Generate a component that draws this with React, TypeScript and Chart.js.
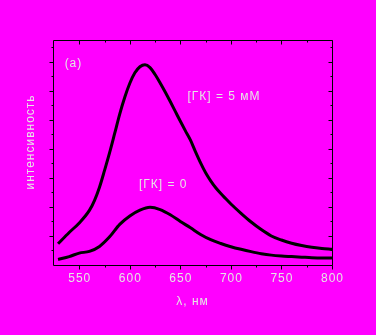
import React, { useEffect, useRef } from 'react';
import { Chart, registerables } from 'chart.js';

Chart.register(...registerables);

// ---- data ----
const wavelengthHigh = [529, 540, 550, 560, 565, 570, 575, 580, 585, 590, 595, 600, 605, 610, 615, 620, 625, 630, 635, 640, 645, 650, 655, 660, 665, 670, 675, 680, 685, 690, 695, 700, 710, 720, 730, 740, 750, 760, 770, 780, 790, 800];
const intensityHigh = [0.73, 1.12, 1.45, 1.88, 2.22, 2.68, 3.26, 3.87, 4.53, 5.2, 5.78, 6.26, 6.62, 6.83, 6.9, 6.8, 6.56, 6.27, 5.96, 5.63, 5.29, 4.95, 4.62, 4.3, 3.9, 3.52, 3.18, 2.9, 2.66, 2.46, 2.28, 2.10, 1.78, 1.48, 1.22, 1.0, 0.86, 0.75, 0.67, 0.61, 0.57, 0.54];

const wavelengthLow = [529, 540, 550, 560, 570, 580, 590, 600, 610, 620, 630, 640, 650, 660, 670, 680, 690, 700, 710, 720, 730, 740, 750, 760, 770, 780, 800];
const intensityLow = [0.19, 0.29, 0.41, 0.47, 0.64, 0.97, 1.40, 1.69, 1.89, 1.99, 1.91, 1.73, 1.50, 1.28, 1.05, 0.87, 0.74, 0.63, 0.54, 0.46, 0.39, 0.34, 0.31, 0.29, 0.27, 0.25, 0.24];

const xMajorTicks = [550, 600, 650, 700, 750, 800];
const xMinorTicks = [575, 625, 675, 725, 775];
const yMajorTicks = [1, 2, 3, 4, 5, 6, 7];
const yMinorTicks = [0.5, 1.5, 2.5, 3.5, 4.5, 5.5, 6.5, 7.5];

const xTitle = 'λ, нм';
const yTitle = 'интенсивность';
const panelLabel = '(а)';
const labelHigh = '[ГК] = 5 мМ';
const labelLow = '[ГК] = 0';

const BG = '#ff00ff';
const TEXT = '#e6e6e6';
const FONT = '12px "Liberation Sans", Arial, sans-serif';

const axesPlugin = {
  id: 'customAxes',
  beforeDraw(chart: any) {
    const ctx = chart.ctx;
    ctx.save();
    ctx.fillStyle = BG;
    ctx.fillRect(0, 0, chart.width, chart.height);
    ctx.restore();
  },
  afterDraw(chart: any) {
    const ctx = chart.ctx;
    const a = chart.chartArea;
    const xs = chart.scales.x;
    const ys = chart.scales.y;
    const r = (v: number) => Math.round(v) + 0.5;
    ctx.save();
    ctx.strokeStyle = '#000';
    ctx.lineWidth = 1;
    ctx.beginPath();
    ctx.rect(r(a.left), r(a.top), Math.round(a.right) - Math.round(a.left), Math.round(a.bottom) - Math.round(a.top));
    ctx.stroke();

    const line = (x1: number, y1: number, x2: number, y2: number) => {
      ctx.beginPath();
      ctx.moveTo(x1, y1);
      ctx.lineTo(x2, y2);
      ctx.stroke();
    };
    const B = r(a.bottom), T = r(a.top), L = r(a.left), R = r(a.right);
    xMajorTicks.forEach((v) => {
      const x = r(xs.getPixelForValue(v));
      line(x, B, x, B + 4);
      line(x, T, x, T + 4);
    });
    xMinorTicks.forEach((v) => {
      const x = r(xs.getPixelForValue(v));
      line(x, B, x, B + 2);
      line(x, T, x, T + 2);
    });
    yMajorTicks.forEach((v) => {
      const y = r(ys.getPixelForValue(v));
      line(L - 4, y, L, y);
      line(R - 4, y, R, y);
    });
    yMinorTicks.forEach((v) => {
      const y = r(ys.getPixelForValue(v));
      line(L - 2, y, L, y);
      line(R - 2, y, R, y);
    });

    ctx.fillStyle = TEXT;
    ctx.font = FONT;
    try { (ctx as any).letterSpacing = '1px'; } catch (e) {}
    ctx.textAlign = 'center';
    ctx.textBaseline = 'middle';
    xMajorTicks.forEach((v) => {
      ctx.fillText(String(v), xs.getPixelForValue(v) + 0.5, a.bottom + 14);
    });
    ctx.fillText(xTitle, (a.left + a.right) / 2, a.bottom + 37);

    ctx.save();
    ctx.translate(30.5, 142);
    ctx.rotate(-Math.PI / 2);
    ctx.fillText(yTitle, 0, 0);
    ctx.restore();

    ctx.textAlign = 'left';
    ctx.fillText(panelLabel, xs.getPixelForValue(535.5), ys.getPixelForValue(6.94));
    ctx.fillText(labelHigh, xs.getPixelForValue(657), ys.getPixelForValue(5.81));
    ctx.fillText(labelLow, xs.getPixelForValue(609), ys.getPixelForValue(2.78));
    ctx.restore();
  },
};

export default function App() {
  const ref = useRef<HTMLCanvasElement | null>(null);
  useEffect(() => {
    if (!ref.current) return;
    const chart = new Chart(ref.current, {
      type: 'line',
      data: {
        datasets: [
          {
            label: labelHigh,
            data: wavelengthHigh.map((x, i) => ({ x, y: intensityHigh[i] })),
            borderColor: '#000',
            borderWidth: 3,
            pointRadius: 0,
            cubicInterpolationMode: 'monotone',
            fill: false,
          },
          {
            label: labelLow,
            data: wavelengthLow.map((x, i) => ({ x, y: intensityLow[i] })),
            borderColor: '#000',
            borderWidth: 3,
            pointRadius: 0,
            cubicInterpolationMode: 'monotone',
            fill: false,
          },
        ],
      },
      options: {
        animation: false,
        responsive: false,
        events: [],
        layout: { padding: { left: 53, top: 40, right: 44, bottom: 70 } },
        plugins: { legend: { display: false }, tooltip: { enabled: false } },
        scales: {
          x: { type: 'linear', min: 524, max: 800, display: false },
          y: { type: 'linear', min: 0, max: 7.75, display: false },
        },
      },
      plugins: [axesPlugin],
    });
    return () => chart.destroy();
  }, []);
  return (
    <div style={{ position: 'fixed', left: 0, top: 0, width: 376, height: 335, background: BG }}>
      <canvas ref={ref} width={376} height={335} style={{ display: 'block' }} />
    </div>
  );
}
